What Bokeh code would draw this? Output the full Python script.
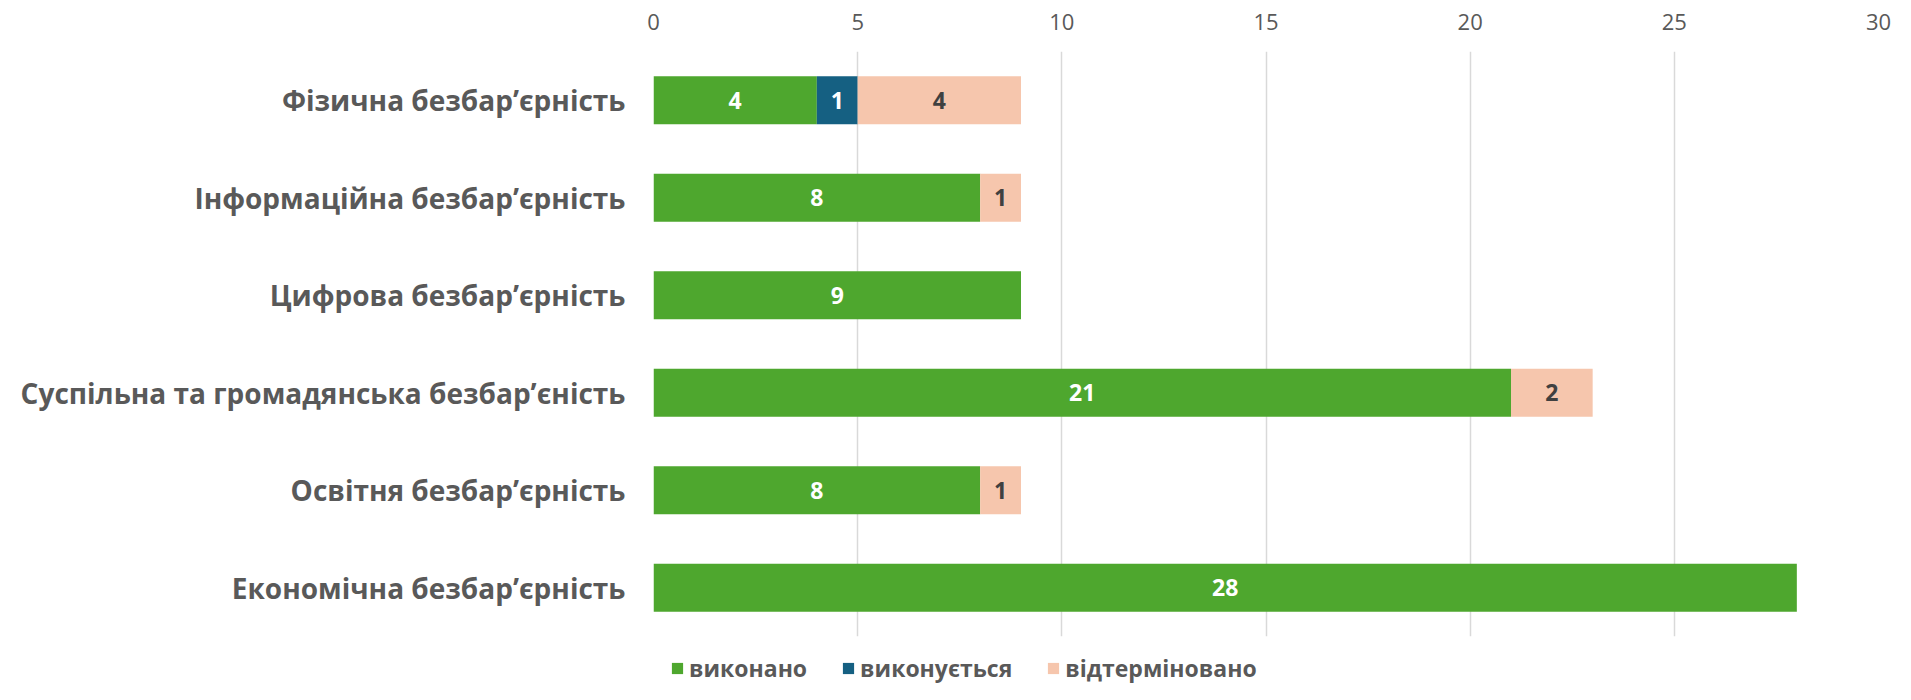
from bokeh.plotting import figure
from bokeh.layouts import column
from bokeh.models import ColumnDataSource, FactorRange, Legend, LegendItem, FixedTicker, Range1d
from bokeh.core.properties import value
from bokeh.embed import file_html
from bokeh.resources import INLINE

categories = [
    "Фізична безбар’єрність",
    "Інформаційна безбар’єрність",
    "Цифрова безбар’єрність",
    "Суспільна та громадянська безбар’єність",
    "Освітня безбар’єрність",
    "Економічна безбар’єрність",
]
done = [4, 8, 9, 21, 8, 28]
in_progress = [1, 0, 0, 0, 0, 0]
postponed = [4, 1, 0, 2, 1, 0]
series_names = ["виконано", "виконується", "відтерміновано"]
series_values = [done, in_progress, postponed]
colors = ["#4EA72E", "#156082", "#F6C6AD"]
label_colors = ["#FFFFFF", "#FFFFFF", "#404040"]
x_ticks = [0, 5, 10, 15, 20, 25, 30]

GRAY = "#595959"
FONT = "Open Sans"

p = figure(width=1895, height=646,
           y_range=FactorRange(factors=categories[::-1], range_padding=0),
           x_range=Range1d(0, 30),
           x_axis_location="above",
           output_backend="svg", toolbar_location=None,
           min_border_left=653, min_border_right=17,
           min_border_top=51, min_border_bottom=10)

data = {"cat": categories}
for name, vals in zip(series_names, series_values):
    data[name] = vals
source = ColumnDataSource(data)

renderers = p.hbar_stack(series_names, y="cat", height=0.49, fill_color=colors,
                         line_color=None, source=source)

# data labels
lx, ly, lt, lc = [], [], [], []
for i, cat in enumerate(categories):
    left = 0
    for vals, col in zip(series_values, label_colors):
        v = vals[i]
        if v:
            lx.append(left + v / 2)
            ly.append(cat)
            lt.append(str(v))
            lc.append(col)
        left += v
lsrc = ColumnDataSource(dict(x=lx, y=ly, t=lt, c=lc))
p.text(x="x", y="y", text="t", text_color="c", source=lsrc,
       text_align="center", text_baseline="middle",
       text_font=value(FONT), text_font_style="bold", text_font_size="23px")

p.xgrid.grid_line_color = "#D9D9D9"
p.xgrid.grid_line_width = 1.5
p.xgrid.ticker = FixedTicker(ticks=x_ticks)
p.ygrid.grid_line_color = None
p.outline_line_color = None

xa = p.xaxis[0]
xa.ticker = FixedTicker(ticks=x_ticks)
xa.axis_line_color = None
xa.major_tick_line_color = None
xa.minor_tick_line_color = None
xa.major_label_text_font = FONT
xa.major_label_text_font_size = "22px"
xa.major_label_text_color = GRAY
xa.major_label_standoff = 16

ya = p.yaxis[0]
ya.axis_line_color = None
ya.major_tick_line_color = None
ya.minor_tick_line_color = None
ya.major_label_text_font = FONT
ya.major_label_text_font_style = "bold"
ya.major_label_text_font_size = "28px"
ya.major_label_text_color = GRAY
ya.major_label_standoff = 22

# legend strip below the chart (its bar renderers are hidden; only the legend shows)
p2 = figure(width=1895, height=38, x_range=Range1d(0, 30),
            y_range=FactorRange(factors=categories[::-1]),
            x_axis_type=None, y_axis_type=None,
            output_backend="svg", toolbar_location=None,
            min_border_left=653, min_border_right=17, min_border_top=0, min_border_bottom=0)
p2.grid.visible = False
p2.outline_line_color = None
legend_renderers = p2.hbar_stack(series_names, y="cat", height=0.49, fill_color=colors,
                                 line_color=None, source=source)
for r in legend_renderers:
    r.visible = False

legend = Legend(items=[LegendItem(label=n, renderers=[r]) for n, r in zip(series_names, legend_renderers)],
                orientation="horizontal", location=(17, 0),
                label_text_font=FONT, label_text_font_style="bold",
                label_text_font_size="23px", label_text_color=GRAY,
                glyph_width=14, glyph_height=14, label_standoff=5,
                spacing=34, padding=0, margin=0,
                inactive_fill_alpha=0,
                background_fill_alpha=0, border_line_color=None)
p2.add_layout(legend, "center")

layout = column(p, p2, spacing=0)
open("out.html", "w").write(file_html(layout, INLINE))
